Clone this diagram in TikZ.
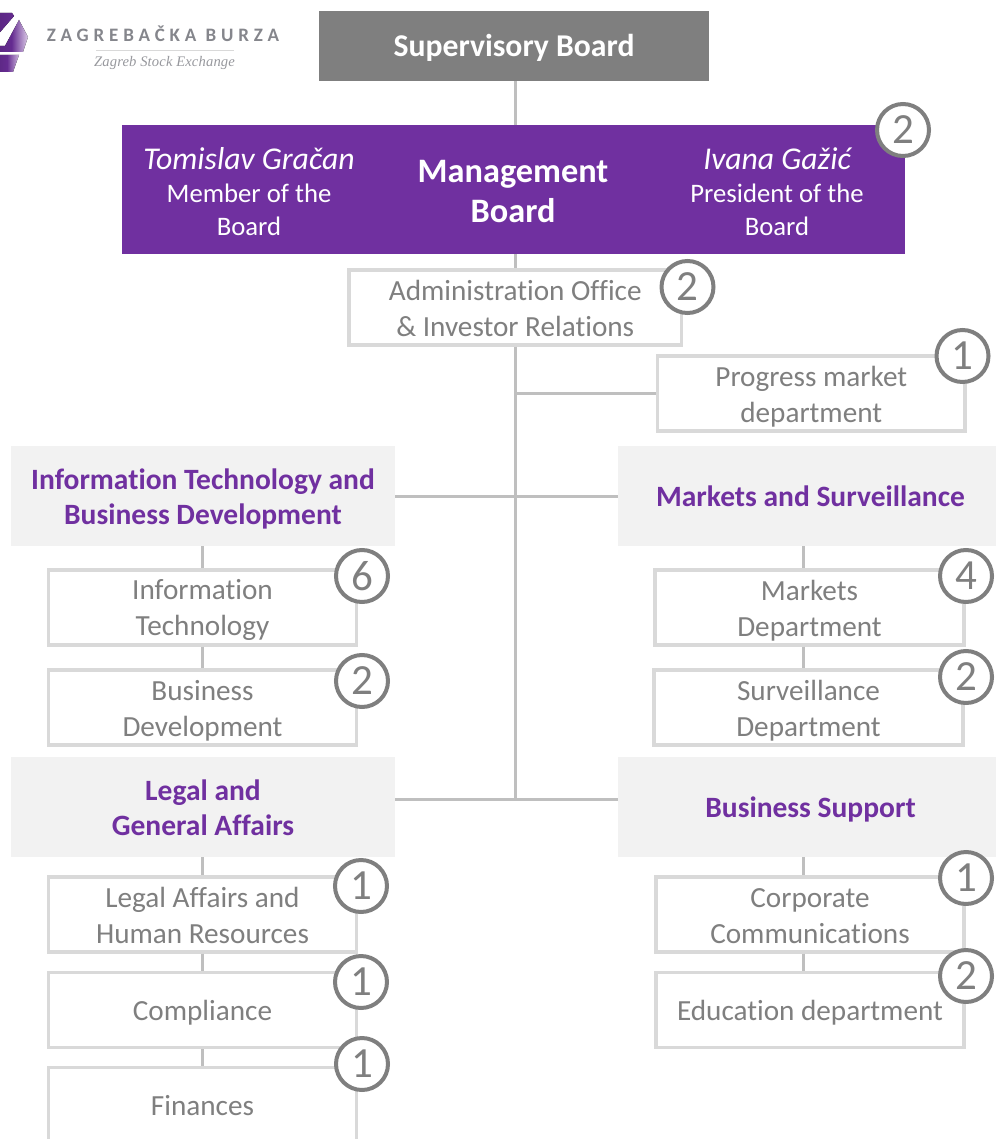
\documentclass[tikz,border=0pt]{standalone}
\usepackage{fontspec}
\setmainfont{Carlito}[Ligatures=NoCommon]
\newfontfamily\logoserif{Liberation Serif}[Ligatures=NoCommon]
\definecolor{bdgray}{HTML}{7F7F7F}
\definecolor{bdpurple}{HTML}{7030A0}
\definecolor{boxline}{HTML}{D9D9D9}
\definecolor{connline}{HTML}{BFBFBF}
\definecolor{headfill}{HTML}{F2F2F2}
\definecolor{logogray}{HTML}{85868C}
\newcommand{\lineA}{\rule{0pt}{26pt}}
\newcommand{\lineB}{\rule[-5pt]{0pt}{0pt}}
\tikzset{
  unitbox/.style={draw=boxline,line width=3.3pt,fill=white,inner sep=0pt,align=center,text=bdgray,font=\fontsize{29.2}{36}\selectfont},
  headbox/.style={fill=headfill,inner sep=0pt,align=center,text=bdpurple,font=\fontsize{29.5}{35}\selectfont\bfseries},
  topbox/.style={fill=bdgray,inner sep=0pt,align=center,text=white,font=\fontsize{31.7}{35}\selectfont\bfseries},
  mgmtbox/.style={fill=bdpurple,inner sep=0pt},
  mgmttext/.style={inner sep=0pt,align=center,text=white,font=\fontsize{26.7}{33}\selectfont},
  count/.style={circle,draw=bdgray,fill=white,line width=4pt,minimum size=52pt,inner sep=0pt,text=bdgray,font=\fontsize{43}{43}\selectfont},
  conn/.style={draw=connline,line width=3pt},
}
\newcommand{\rbox}[7]{\node[#1,minimum width=#5pt-#3pt,minimum height=#6pt-#4pt] (#2) at ({(#3+#5)/2},{(#4+#6)/2}) {\lineA #7\lineB};}
\begin{document}
\begin{tikzpicture}[x=1pt,y=-1pt]
\useasboundingbox (0,0) rectangle (995,1139);
% logo
\fill[left color=bdpurple!80!black,right color=bdpurple!90!black] (-5,13) -- (12,13) -- (14,16) -- (-5,38) -- cycle;
\fill[left color=bdpurple!80!black,right color=bdpurple!25!white,middle color=bdpurple!90!black] (19,20) -- (28,37) -- (23,52) -- (-5,52) -- (-5,46) -- (5,46) -- cycle;
\fill[left color=bdpurple!80!black,right color=bdpurple!35!white,middle color=bdpurple!90!black] (-5,55) -- (19,55) -- (13,72) -- (-5,72) -- cycle;
\node[inner sep=0pt,text=logogray,font=\fontsize{19}{19}\selectfont\bfseries\addfontfeature{LetterSpace=25.5}] (logoA) at (163,34) {ZAGREBAČKA BURZA};
\node[inner sep=0pt,text=logogray!85,font=\logoserif\fontsize{14.6}{15}\selectfont\itshape\addfontfeature{LetterSpace=1}] (logoB) at (164.5,63) {Zagreb Stock Exchange};
\coordinate (logoL) at (96,50);
\coordinate (logoR) at (234,50);
\draw[boxline,line width=0.8pt] (logoL) -- (logoR);
% boxes
\rbox{topbox}{sup}{319}{11}{709}{81}{Supervisory Board}
\node[mgmtbox,minimum width=783pt,minimum height=129pt] (mgmt) at (513.5,189.5) {};
\rbox{unitbox}{admin}{349}{270}{681.5}{345}{Administration Office\\\& Investor Relations}
\rbox{unitbox}{prog}{657.5}{356}{965}{431}{Progress market\\department}
\rbox{headbox}{it}{11}{446}{395}{546}{Information Technology and\\Business Development}
\rbox{headbox}{mk}{618}{446}{1003}{546}{Markets and Surveillance}
\rbox{unitbox}{itd}{48.5}{570}{356.5}{645}{Information\\Technology}
\rbox{unitbox}{bd}{48.5}{670}{356.5}{745}{Business\\Development}
\rbox{unitbox}{mkd}{655}{570}{964}{645}{Markets\\Department}
\rbox{unitbox}{sv}{654}{670}{963}{745}{Surveillance\\Department}
\rbox{headbox}{lg}{11}{757}{395}{857}{Legal and\\General Affairs}
\rbox{headbox}{bs}{618}{757}{1003}{857}{Business Support}
\rbox{unitbox}{la}{48.5}{877}{356.5}{952}{Legal Affairs and\\Human Resources}
\rbox{unitbox}{co}{48.5}{972.5}{356.5}{1047.5}{Compliance}
\rbox{unitbox}{fi}{48.5}{1067.5}{356.5}{1142.5}{Finances}
\rbox{unitbox}{cc}{656}{877}{964}{952}{Corporate\\Communications}
\rbox{unitbox}{ed}{656}{972.5}{964}{1047.5}{Education department}
% management text
\node[mgmttext] (tg) at (249,192) {{\fontsize{31.7}{33}\selectfont\itshape Tomislav Gračan}\\Member of the\\Board};
\node[mgmttext] (ig) at (777,192) {{\fontsize{31.7}{33}\selectfont\itshape Ivana Gažić}\\President of the\\Board};
\node[inner sep=0pt,align=center,text=white,font=\fontsize{34.3}{40}\selectfont\bfseries] (mb) at (513,192) {Management\\Board};
% connectors
\coordinate (spineX) at (515.5,0);
\coordinate (progJ) at (515.5,393);
\coordinate (legalJ) at (515.5,799);
\coordinate (dropL) at (202.5,0);
\coordinate (dropR) at (803,0);
\draw[conn] (sup.south -| spineX) -- (mgmt.north -| spineX);
\draw[conn] (mgmt.south -| spineX) -- (admin.north -| spineX);
\draw[conn] (admin.south -| spineX) -- (legalJ);
\draw[conn] (progJ) -- (prog.west |- progJ);
\draw[conn] (it.east) -- (mk.west);
\draw[conn] (lg.east |- legalJ) -- (bs.west |- legalJ);
\draw[conn] (it.south -| dropL) -- (itd.north -| dropL);
\draw[conn] (itd.south -| dropL) -- (bd.north -| dropL);
\draw[conn] (lg.south -| dropL) -- (la.north -| dropL);
\draw[conn] (la.south -| dropL) -- (co.north -| dropL);
\draw[conn] (co.south -| dropL) -- (fi.north -| dropL);
\draw[conn] (mk.south -| dropR) -- (mkd.north -| dropR);
\draw[conn] (mkd.south -| dropR) -- (sv.north -| dropR);
\draw[conn] (bs.south -| dropR) -- (cc.north -| dropR);
\draw[conn] (cc.south -| dropR) -- (ed.north -| dropR);
% count circles
\node[count] (n1) at (903,130) {2};
\node[count] (n2) at (687.5,287) {2};
\node[count] (n3) at (962.5,356) {1};
\node[count] (n4) at (362,576) {6};
\node[count] (n5) at (362,681) {2};
\node[count] (n6) at (966,576) {4};
\node[count] (n7) at (966,677) {2};
\node[count] (n8) at (361,886) {1};
\node[count] (n9) at (361,982) {1};
\node[count] (n10) at (362,1064) {1};
\node[count] (n11) at (966,878) {1};
\node[count] (n12) at (966,976) {2};
\end{tikzpicture}
\end{document}
